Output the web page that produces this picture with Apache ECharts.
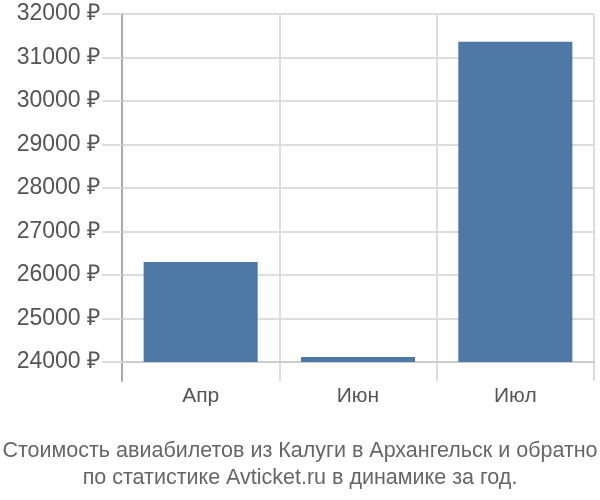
<!DOCTYPE html>
<html><head><meta charset="utf-8">
<script src="https://cdn.jsdelivr.net/npm/echarts@6/dist/echarts.min.js"></script>
<style>html,body{margin:0;padding:0;background:#fff}#c{width:600px;height:500px}</style>
</head><body><div id="c"></div>
<script>
const categories = ['Апр', 'Июн', 'Июл'];
const prices = [26300, 24115, 31360];
const yMin = 24000, yMax = 32000, yStep = 1000;
const titleLines = ['Стоимость авиабилетов из Калуги в Архангельск и обратно', 'по статистике Avticket.ru в динамике за год.'];

const font = 'Liberation Sans, Arial, sans-serif';
const chart = echarts.init(document.getElementById('c'), null, {renderer: 'canvas'});
chart.setOption({
  animation: false,
  title: {
    text: titleLines.join('\n'),
    left: 'center', top: 433,
    textStyle: {fontFamily: font, fontSize: 21.5, fontWeight: 'normal', color: '#666', lineHeight: 27}
  },
  grid: [
    {left: 122, right: 6, top: 14, bottom: 138, containLabel: false},
    {left: 122, right: 6, top: 14, bottom: 119, containLabel: false}
  ],
  xAxis: [
    {
      type: 'category', data: categories, gridIndex: 0,
      axisLine: {show: true, lineStyle: {color: '#ccc', width: 2}},
      axisTick: {show: false},
      splitLine: {show: false},
      axisLabel: {fontFamily: font, fontSize: 21, color: '#555', margin: 24}
    },
    {
      type: 'category', data: categories, gridIndex: 1,
      axisLine: {show: false}, axisTick: {show: false}, axisLabel: {show: false},
      splitLine: {show: true, interval: 0, lineStyle: {color: '#ddd', width: 2}}
    }
  ],
  yAxis: [
    {
      type: 'value', gridIndex: 0, min: yMin, max: yMax, interval: yStep,
      axisLine: {show: false},
      axisTick: {show: true, length: 20, lineStyle: {color: '#ddd', width: 2}},
      splitLine: {show: true, lineStyle: {color: '#ddd', width: 2}},
      axisLabel: {fontFamily: font, fontSize: 23, color: '#555', margin: 22, formatter: v => v + ' ₽'}
    },
    {
      type: 'value', gridIndex: 1, min: 0, max: 1,
      axisLine: {show: true, lineStyle: {color: '#aaa', width: 2}},
      axisTick: {show: false}, axisLabel: {show: false}, splitLine: {show: false}
    }
  ],
  series: [{
    type: 'bar', xAxisIndex: 0, yAxisIndex: 0, data: prices,
    barWidth: '72.5%',
    itemStyle: {color: '#4e79a7'}
  }]
});
</script></body></html>
